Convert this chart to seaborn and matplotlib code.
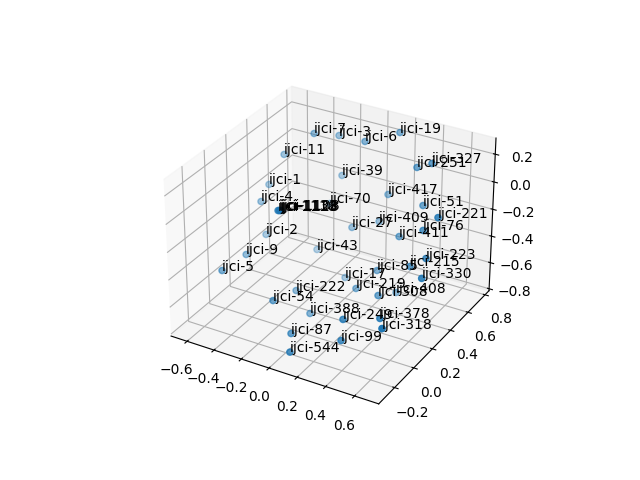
import seaborn as sns
import matplotlib
matplotlib.use('Agg')
import matplotlib.pyplot as plt

ids = [7,3,6,19,251,327,39,417,51,70,409,221,27,76,411,11,1,4,1118,1133,1128,1108,2,9,5,43,222,54,388,87,544,99,249,17,219,85,215,223,330,408,308,378,318]
x_vals = [-0.319,-0.221,0.013,0.202,0.411,0.521,-0.183,0.183,0.502,-0.205,0.137,0.738,-0.003,0.611,0.385,-0.494,-0.575,-0.547,-0.226,-0.221,-0.216,-0.210,-0.511,-0.500,-0.518,-0.246,-0.169,-0.155,-0.016,0.032,0.135,0.382,0.360,-0.002,0.195,0.281,0.562,0.703,0.760,0.382,0.400,0.587,0.713]
y_vals = [0.530,0.649,0.584,0.673,0.542,0.531,0.627,0.584,0.474,0.532,0.560,0.263,0.476,0.308,0.403,0.464,0.416,0.299,0.044,0.047,0.049,0.052,0.295,0.085,-0.121,0.453,0.133,-0.111,0.062,-0.190,-0.340,-0.184,-0.134,0.404,0.235,0.329,0.253,0.201,0.069,0.386,0.165,-0.093,-0.260]
z_vals = [0.242,0.187,0.241,0.305,0.185,0.249,-0.083,-0.097,-0.022,-0.241,-0.295,0.087,-0.328,-0.068,-0.237,0.081,-0.134,-0.183,-0.005,-0.005,-0.005,-0.005,-0.416,-0.431,-0.423,-0.551,-0.631,-0.539,-0.708,-0.669,-0.667,-0.610,-0.498,-0.659,-0.570,-0.471,-0.307,-0.174,-0.213,-0.642,-0.512,-0.446,-0.363]
labels = [f'ijci-{i}' for i in ids]

fig = plt.figure(figsize=(6.4, 4.8), dpi=100)
ax = fig.add_subplot(projection='3d')
ax.scatter(x_vals, y_vals, z_vals, color=sns.color_palette('tab10')[0])
for name, x, y, z in zip(labels, x_vals, y_vals, z_vals):
    ax.text(x, y, z, name)
ax.set_xlim(-0.72, 0.765)
ax.set_ylim(-0.361, 0.848)
ax.set_zlim(-0.815, 0.315)
fig.savefig('out.png', dpi=100)
